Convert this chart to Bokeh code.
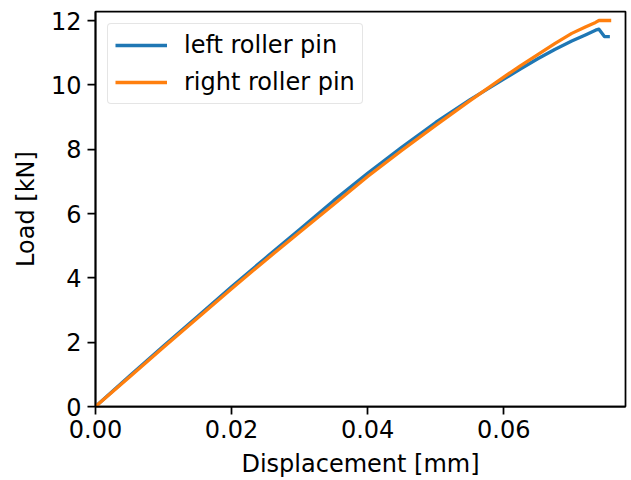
from bokeh.plotting import figure
from bokeh.models import FixedTicker, Legend, LegendItem, Range1d
from bokeh.embed import file_html
from bokeh.resources import INLINE

# Data
left_x = [0.0, 0.005, 0.01, 0.015, 0.02, 0.025, 0.03, 0.035, 0.04, 0.045, 0.05,
          0.055, 0.06, 0.0625, 0.065, 0.0675, 0.07, 0.072, 0.0735, 0.074, 0.0748, 0.0756]
left_y = [0.0, 0.95, 1.88, 2.80, 3.72, 4.62, 5.50, 6.40, 7.25, 8.06, 8.83,
          9.53, 10.18, 10.50, 10.81, 11.10, 11.36, 11.55, 11.70, 11.73, 11.50, 11.50]

right_x = [0.0, 0.005, 0.01, 0.015, 0.02, 0.025, 0.03, 0.035, 0.04, 0.045, 0.05,
           0.055, 0.06, 0.0625, 0.065, 0.0675, 0.07, 0.072, 0.0735, 0.074, 0.0758]
right_y = [0.0, 0.92, 1.84, 2.75, 3.66, 4.55, 5.42, 6.28, 7.15, 7.96, 8.74,
           9.50, 10.24, 10.60, 10.94, 11.28, 11.60, 11.80, 11.94, 12.00, 12.00]

x_ticks = [0.0, 0.02, 0.04, 0.06]
x_tick_labels = ["0.00", "0.02", "0.04", "0.06"]
y_ticks = [0, 2, 4, 6, 8, 10, 12]
y_tick_labels = ["0", "2", "4", "6", "8", "10", "12"]

series_names = ["left roller pin", "right roller pin"]
colors = ["#1f77b4", "#ff7f0e"]

FONT = "DejaVu Sans"
FS = "24px"

p = figure(width=631, height=480, output_backend="svg", toolbar_location=None,
           x_range=Range1d(0, 0.0779), y_range=Range1d(0, 12.28),
           min_border_left=95, min_border_right=6, min_border_top=11,
           min_border_bottom=74)
p.xgrid.visible = False
p.ygrid.visible = False
p.background_fill_color = "white"
p.border_fill_color = "white"
p.outline_line_color = "black"
p.outline_line_width = 1.75

r1 = p.line(left_x, left_y, line_color=colors[0], line_width=3.3, line_join="round")
r2 = p.line(right_x, right_y, line_color=colors[1], line_width=3.3, line_join="round")

for ax in (p.xaxis[0], p.yaxis[0]):
    ax.major_tick_in = 0
    ax.major_tick_out = 8
    ax.minor_tick_in = 0
    ax.minor_tick_out = 0
    ax.major_tick_line_width = 1.75
    ax.axis_line_width = 1.75
    ax.major_label_text_font = FONT
    ax.major_label_text_font_size = FS
    ax.major_label_text_color = "black"
    ax.axis_label_text_font = FONT
    ax.axis_label_text_font_size = FS
    ax.axis_label_text_font_style = "normal"
    ax.axis_label_text_color = "black"

p.xaxis[0].ticker = FixedTicker(ticks=x_ticks)
p.xaxis[0].major_label_overrides = {t: l for t, l in zip(x_ticks, x_tick_labels)}
p.yaxis[0].ticker = FixedTicker(ticks=y_ticks)
p.yaxis[0].major_label_overrides = {t: l for t, l in zip(y_ticks, y_tick_labels)}
p.xaxis[0].axis_label = "Displacement [mm]"
p.yaxis[0].axis_label = "Load [kN]"
p.xaxis[0].major_label_standoff = 5
p.yaxis[0].major_label_standoff = 6
p.xaxis[0].axis_label_standoff = 9
p.yaxis[0].axis_label_standoff = 8

legend = Legend(items=[LegendItem(label=series_names[0], renderers=[r1]),
                       LegendItem(label=series_names[1], renderers=[r2])],
                location="top_left")
legend.margin = 12
legend.padding = 7
legend.spacing = 9
legend.glyph_width = 52
legend.glyph_height = 26
legend.label_height = 26
legend.label_standoff = 17
legend.label_text_font = FONT
legend.label_text_font_size = FS
legend.label_text_color = "black"
legend.border_line_color = "#cccccc"
legend.border_line_width = 1.75
legend.background_fill_alpha = 0.8
try:
    legend.border_radius = 4
except Exception:
    pass
p.add_layout(legend)

open("out.html", "w").write(file_html(p, INLINE))
